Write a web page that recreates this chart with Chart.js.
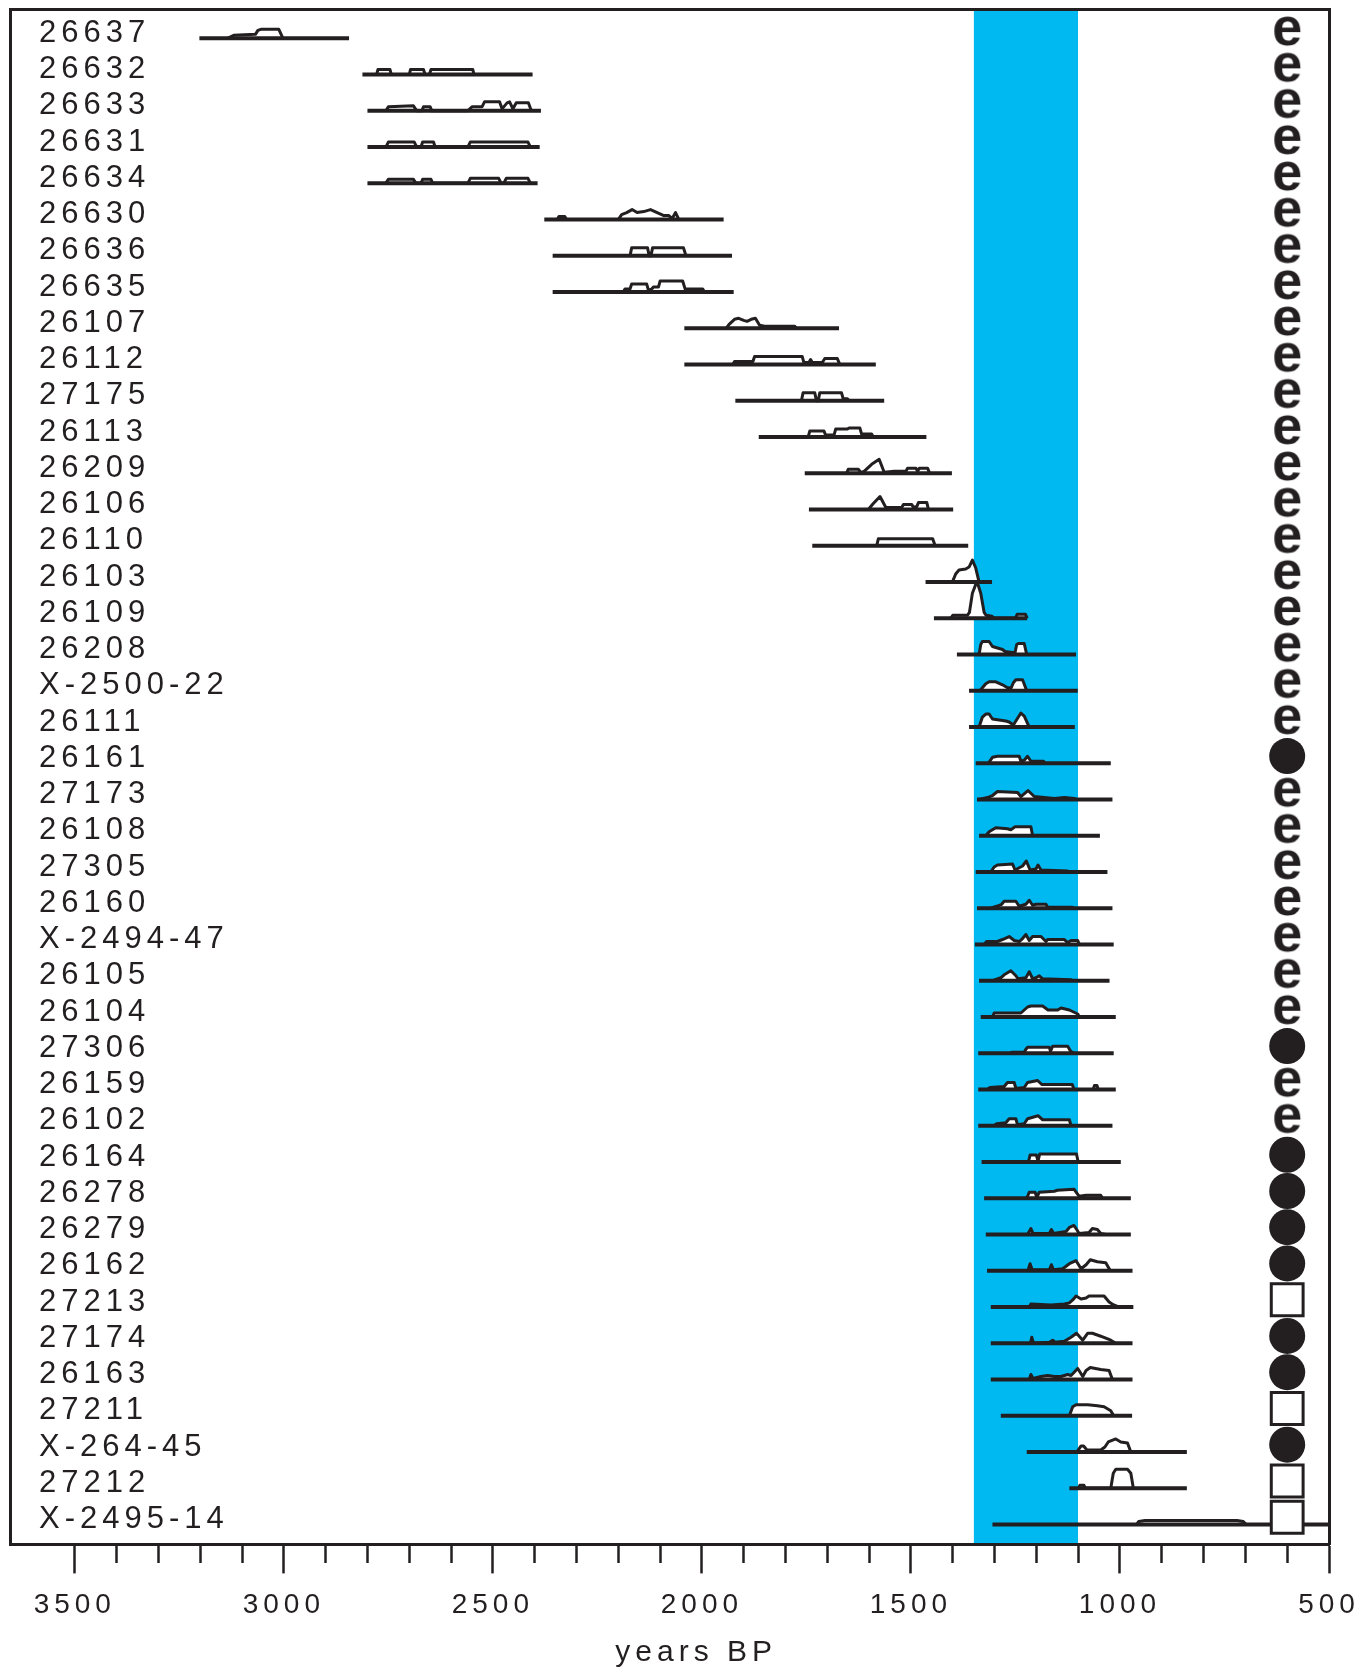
<!DOCTYPE html>
<html>
<head>
<meta charset="utf-8">
<script src="https://cdn.jsdelivr.net/npm/chart.js@4.4.1/dist/chart.umd.min.js"></script>
<style>
  html, body { margin: 0; padding: 0; background: #fff; }
  #wrap { width: 1372px; height: 1674px; }
</style>
</head>
<body>
<div id="wrap"><canvas id="myChart"></canvas></div>
<script>
// sample codes, top to bottom
const labels = [
  '26637', '26632', '26633', '26631', '26634', '26630', '26636', '26635',
  '26107', '26112', '27175', '26113', '26209', '26106', '26110', '26103',
  '26109', '26208', 'X-2500-22', '26111', '26161', '27173', '26108', '27305',
  '26160', 'X-2494-47', '26105', '26104', '27306', '26159', '26102', '26164',
  '26278', '26279', '26162', '27213', '27174', '26163', '27211', 'X-264-45',
  '27212', 'X-2495-14'
];

// 2 sigma ranges, years BP
const rangeStart = [
  3202, 2812, 2800, 2800, 2800, 2377, 2357, 2357, 2042, 2042, 1920, 1864,
  1754, 1744, 1736, 1465, 1445, 1390, 1361, 1361, 1345, 1342, 1337, 1345,
  1342, 1347, 1337, 1333, 1339, 1339, 1339, 1331, 1325, 1321, 1318, 1309,
  1309, 1309, 1285, 1223, 1121, 1305
];
const rangeEnd = [
  2844, 2405, 2385, 2388, 2393, 1948, 1928, 1924, 1672, 1584, 1564, 1463,
  1402, 1399, 1363, 1306, 1222, 1105, 1101, 1108, 1022, 1018, 1048, 1030,
  1018, 1015, 1025, 1010, 1015, 1010, 1018, 998, 974, 974, 970, 968,
  970, 970, 971, 840, 840, 500
];

// e = letter e, c = filled circle, s = open square
const symbols = [
  'e', 'e', 'e', 'e', 'e', 'e', 'e', 'e', 'e', 'e', 'e', 'e', 'e', 'e',
  'e', 'e', 'e', 'e', 'e', 'e', 'c', 'e', 'e', 'e', 'e', 'e', 'e', 'e',
  'c', 'e', 'e', 'c', 'c', 'c', 'c', 's', 'c', 'c', 's', 'c', 's', 's'
];
const symbolYear = 600;

// calibrated probability outlines: [year BP, relative height]
const profiles = [
  [[3135,0],[3120,3],[3068,4],[3062,8],[3055,9],[3012,9],[3002,0]],
  [[2778,0],[2775,5],[2746,5],[2743,0],[2700,0],[2697,5],[2666,5],[2662,0],[2652,0],[2648,5],[2548,5],[2545,0]],
  [[2756,0],[2750,4],[2690,5],[2682,0],[2670,0],[2666,4],[2650,4],[2646,0],[2560,0],[2550,4],[2526,4],[2520,9],[2484,9],[2478,2],[2466,8],[2460,9],[2452,2],[2444,8],[2415,8],[2408,0]],
  [[2756,0],[2750,5],[2688,5],[2682,0],[2672,0],[2668,5],[2642,5],[2638,0],[2560,0],[2554,5],[2416,5],[2410,0]],
  [[2756,0],[2750,4],[2690,4],[2684,0],[2672,0],[2668,4],[2648,4],[2644,0],[2560,0],[2554,5],[2486,5],[2480,0],[2474,0],[2468,5],[2416,5],[2410,0]],
  [[2346,0],[2342,3],[2328,3],[2324,0],[2200,0],[2192,5],[2180,7],[2167,10],[2155,7],[2139,8],[2123,10],[2107,7],[2091,4],[2079,4],[2071,1],[2063,7],[2055,0]],
  [[2172,0],[2168,8],[2130,8],[2126,0],[2122,0],[2118,8],[2044,8],[2038,0]],
  [[2188,0],[2184,3],[2172,3],[2168,8],[2132,8],[2128,2],[2120,3],[2116,5],[2104,5],[2100,11],[2046,11],[2040,3],[1998,3],[1994,0]],
  [[1942,0],[1935,4],[1922,9],[1912,10],[1900,8],[1892,7],[1882,9],[1872,10],[1862,3],[1850,2],[1778,2],[1774,0]],
  [[1926,0],[1922,3],[1878,3],[1874,8],[1760,8],[1756,2],[1744,2],[1740,5],[1736,2],[1712,2],[1706,6],[1676,6],[1670,0]],
  [[1762,0],[1758,8],[1730,8],[1726,0],[1722,0],[1718,8],[1666,8],[1662,2],[1652,2],[1648,0]],
  [[1746,0],[1742,6],[1708,6],[1704,2],[1684,2],[1680,8],[1652,8],[1648,9],[1622,9],[1618,3],[1594,3],[1590,0]],
  [[1654,0],[1650,4],[1626,4],[1620,1],[1612,2],[1594,9],[1576,14],[1564,1],[1540,2],[1512,2],[1508,5],[1488,5],[1484,2],[1480,5],[1460,5],[1455,0]],
  [[1602,0],[1590,6],[1574,13],[1560,2],[1540,2],[1522,2],[1518,5],[1498,5],[1494,2],[1486,3],[1482,7],[1462,7],[1458,0]],
  [[1582,0],[1578,7],[1448,7],[1442,0]],
  [[1401,0],[1393,8],[1385,12],[1369,13],[1361,15],[1353,22],[1345,14],[1337,0]],
  [[1405,0],[1400,3],[1365,3],[1360,6],[1353,25],[1342,37],[1333,25],[1325,6],[1320,3],[1306,2],[1302,0],[1250,0],[1246,4],[1226,4],[1222,0]],
  [[1337,0],[1333,10],[1329,13],[1313,13],[1305,8],[1289,6],[1281,5],[1275,3],[1257,2],[1251,2],[1247,10],[1243,11],[1229,11],[1223,0]],
  [[1335,0],[1321,7],[1313,9],[1297,9],[1281,6],[1269,3],[1260,3],[1255,8],[1249,11],[1233,11],[1223,0]],
  [[1337,0],[1329,10],[1321,13],[1313,13],[1305,8],[1289,7],[1273,6],[1265,5],[1255,2],[1249,6],[1237,14],[1229,11],[1217,0]],
  [[1315,0],[1305,6],[1293,7],[1241,7],[1237,2],[1229,3],[1221,7],[1213,2],[1183,2],[1179,0]],
  [[1337,0],[1317,2],[1305,4],[1293,8],[1245,7],[1237,3],[1220,9],[1205,3],[1157,1],[1133,2],[1109,1],[1105,0]],
  [[1321,0],[1313,4],[1297,8],[1269,7],[1261,6],[1251,9],[1213,9],[1209,0]],
  [[1309,0],[1301,5],[1293,7],[1257,8],[1251,2],[1233,6],[1224,11],[1215,2],[1201,3],[1196,7],[1189,2],[1125,1],[1121,0]],
  [[1310,0],[1295,2],[1283,4],[1277,7],[1249,7],[1241,2],[1225,4],[1217,8],[1209,3],[1201,4],[1177,4],[1173,1],[1114,1],[1110,0]],
  [[1325,0],[1319,3],[1293,3],[1281,5],[1265,8],[1253,4],[1241,3],[1233,6],[1225,10],[1217,4],[1209,8],[1189,8],[1177,3],[1173,5],[1133,5],[1125,2],[1117,4],[1101,4],[1097,0]],
  [[1305,0],[1285,3],[1277,6],[1261,10],[1249,5],[1244,2],[1225,3],[1217,9],[1209,2],[1201,3],[1193,5],[1185,2],[1117,1],[1113,0]],
  [[1305,0],[1301,4],[1237,4],[1221,10],[1213,11],[1185,11],[1172,7],[1149,7],[1141,9],[1121,7],[1101,3],[1097,0]],
  [[1263,0],[1259,1],[1229,1],[1225,4],[1221,6],[1169,6],[1166,2],[1161,7],[1125,7],[1118,2],[1110,0]],
  [[1317,0],[1311,2],[1277,3],[1269,7],[1253,7],[1249,1],[1229,2],[1221,7],[1197,9],[1187,5],[1114,5],[1110,0],[1064,0],[1061,4],[1055,4],[1052,0]],
  [[1301,0],[1295,2],[1273,3],[1265,7],[1249,7],[1245,1],[1229,2],[1221,7],[1196,10],[1185,6],[1121,6],[1117,0]],
  [[1219,0],[1215,7],[1200,7],[1196,1],[1192,8],[1104,8],[1100,0]],
  [[1223,0],[1217,6],[1203,6],[1199,1],[1193,6],[1157,7],[1150,8],[1110,9],[1098,2],[1081,3],[1046,3],[1042,0]],
  [[1221,0],[1213,6],[1208,1],[1169,1],[1164,5],[1159,1],[1129,3],[1121,7],[1110,9],[1102,4],[1098,1],[1074,2],[1066,6],[1054,5],[1046,1],[1034,0]],
  [[1220,0],[1215,7],[1210,1],[1169,1],[1164,6],[1159,1],[1137,2],[1121,7],[1105,10],[1093,2],[1081,6],[1071,11],[1054,9],[1034,8],[1023,0]],
  [[1217,0],[1213,3],[1165,2],[1133,3],[1121,4],[1113,7],[1105,11],[1093,8],[1081,9],[1074,11],[1038,11],[1026,5],[1015,2],[1003,0]],
  [[1214,0],[1211,6],[1207,0],[1169,1],[1161,3],[1155,1],[1133,2],[1117,6],[1104,10],[1089,3],[1077,10],[1066,10],[1046,7],[1022,3],[1010,0]],
  [[1217,0],[1213,5],[1208,1],[1189,3],[1173,4],[1157,3],[1141,3],[1125,5],[1117,4],[1101,11],[1089,3],[1081,9],[1071,12],[1046,10],[1026,9],[1018,0]],
  [[1121,0],[1113,9],[1105,11],[1077,11],[1054,10],[1038,9],[1030,7],[1022,5],[1015,0]],
  [[1103,0],[1093,6],[1087,6],[1079,2],[1046,2],[1036,5],[1028,10],[1010,13],[998,10],[982,9],[974,0]],
  [[1099,0],[1096,3],[1086,3],[1083,0],[1022,0],[1016,15],[1010,19],[982,19],[974,15],[968,0]],
  [[960,0],[955,3],[940,4],[720,4],[705,3],[698,0]]
];

// shaded interval, years BP
const band = [1350, 1100];
const majorTicks = [3500, 3000, 2500, 2000, 1500, 1000, 500];

const INK = '#231f20';
const SANS = '"Liberation Sans", Arial, Helvetica, sans-serif';
const Y_MIN = -0.81;
const Y_MAX = 41.55;
const H_SCALE = 1 / 36.2;

// glyph for the "e" markers
const eGlyph = document.createElement('canvas');
eGlyph.width = 42;
eGlyph.height = 42;
const g = eGlyph.getContext('2d');
g.font = 'bold 54px ' + SANS;
g.fillStyle = INK;
g.textAlign = 'center';
g.textBaseline = 'alphabetic';
g.fillText('e', 21, 35);

const datasets = [];

datasets.push({
  label: 'band',
  data: [{x: band[0], y: Y_MIN}, {x: band[1], y: Y_MIN}],
  borderWidth: 0,
  backgroundColor: '#00b9f0',
  fill: 'start',
  pointRadius: 0,
  order: 5
});

profiles.forEach((p, i) => {
  datasets.push({
    label: 'prob ' + labels[i],
    data: p.map(pt => ({x: pt[0], y: i - pt[1] * H_SCALE})),
    borderColor: INK,
    borderWidth: 3,
    borderJoinStyle: 'round',
    backgroundColor: '#fff',
    fill: {value: i},
    pointRadius: 0,
    order: 4
  });
});

labels.forEach((name, i) => {
  datasets.push({
    label: 'range ' + name,
    data: [{x: rangeStart[i], y: i}, {x: rangeEnd[i], y: i}],
    borderColor: INK,
    borderWidth: 4,
    borderCapStyle: 'butt',
    fill: false,
    pointRadius: 0,
    order: 3
  });
});

datasets.push({
  label: 'symbols',
  type: 'scatter',
  data: symbols.map((s, i) => ({x: symbolYear, y: i - 0.2})),
  pointStyle: symbols.map(s => s === 'e' ? eGlyph : (s === 'c' ? 'circle' : 'rect')),
  pointRadius: symbols.map(s => s === 'e' ? 20 : (s === 'c' ? 18 : 22.5)),
  backgroundColor: symbols.map(s => s === 's' ? '#fff' : INK),
  borderColor: INK,
  borderWidth: symbols.map(s => s === 's' ? 3 : 0),
  order: 1
});

const spacing = {
  id: 'spacing',
  beforeLayout(chart) { chart.ctx.letterSpacing = '5px'; },
  beforeDraw(chart) { chart.ctx.letterSpacing = '5px'; }
};

const frame = {display: true, color: INK, width: 3, z: 2};

const config = {
  type: 'line',
  data: {datasets: datasets},
  options: {
    responsive: true,
    maintainAspectRatio: false,
    animation: false,
    layout: {autoPadding: false, padding: {left: 10, top: 9, right: 43, bottom: 6}},
    plugins: {legend: {display: false}, tooltip: {enabled: false}},
    scales: {
      x: {
        type: 'linear',
        position: 'bottom',
        reverse: true,
        min: 500,
        max: 3655,
        afterBuildTicks: axis => {
          axis.ticks = axis.ticks.filter(t => t.value <= 3500);
        },
        afterFit: axis => { axis.paddingLeft = 0; axis.paddingRight = 0; },
        ticks: {
          stepSize: 100,
          autoSkip: false,
          maxRotation: 0,
          padding: 15,
          color: INK,
          font: {family: SANS, size: 28},
          callback: v => majorTicks.includes(v) ? String(v) : ''
        },
        grid: {
          drawOnChartArea: false,
          drawTicks: true,
          tickLength: 29,
          tickWidth: 2.5,
          tickColor: INK,
          tickBorderDash: ctx => majorTicks.includes(ctx.tick.value) ? [] : [17, 40]
        },
        border: frame,
        title: {
          display: true,
          text: '\u00a0\u00a0\u00a0\u00a0years BP',
          color: INK,
          font: {family: SANS, size: 30, lineHeight: 1},
          padding: {top: 1, bottom: 0}
        }
      },
      xTop: {
        type: 'linear',
        position: 'top',
        display: true,
        ticks: {display: false},
        grid: {display: false},
        border: frame,
        afterFit: axis => { axis.height = 0; }
      },
      y: {
        type: 'linear',
        position: 'left',
        reverse: true,
        min: Y_MIN,
        max: Y_MAX,
        afterBuildTicks: axis => {
          axis.ticks = labels.map((_, i) => ({value: i}));
        },
        afterFit: axis => {
          axis.width = 0;
          axis.paddingTop = 0;
          axis.paddingBottom = 0;
        },
        ticks: {
          mirror: true,
          padding: 29,
          labelOffset: -5,
          autoSkip: false,
          color: INK,
          font: {family: SANS, size: 31},
          callback: v => labels[v]
        },
        grid: {display: false},
        border: frame
      },
      yRight: {
        type: 'linear',
        position: 'right',
        display: true,
        ticks: {display: false},
        grid: {display: false},
        border: frame,
        afterFit: axis => { axis.width = 0; }
      }
    }
  },
  plugins: [spacing]
};

const myChart = new Chart(document.getElementById('myChart'), config);
</script>
</body>
</html>
